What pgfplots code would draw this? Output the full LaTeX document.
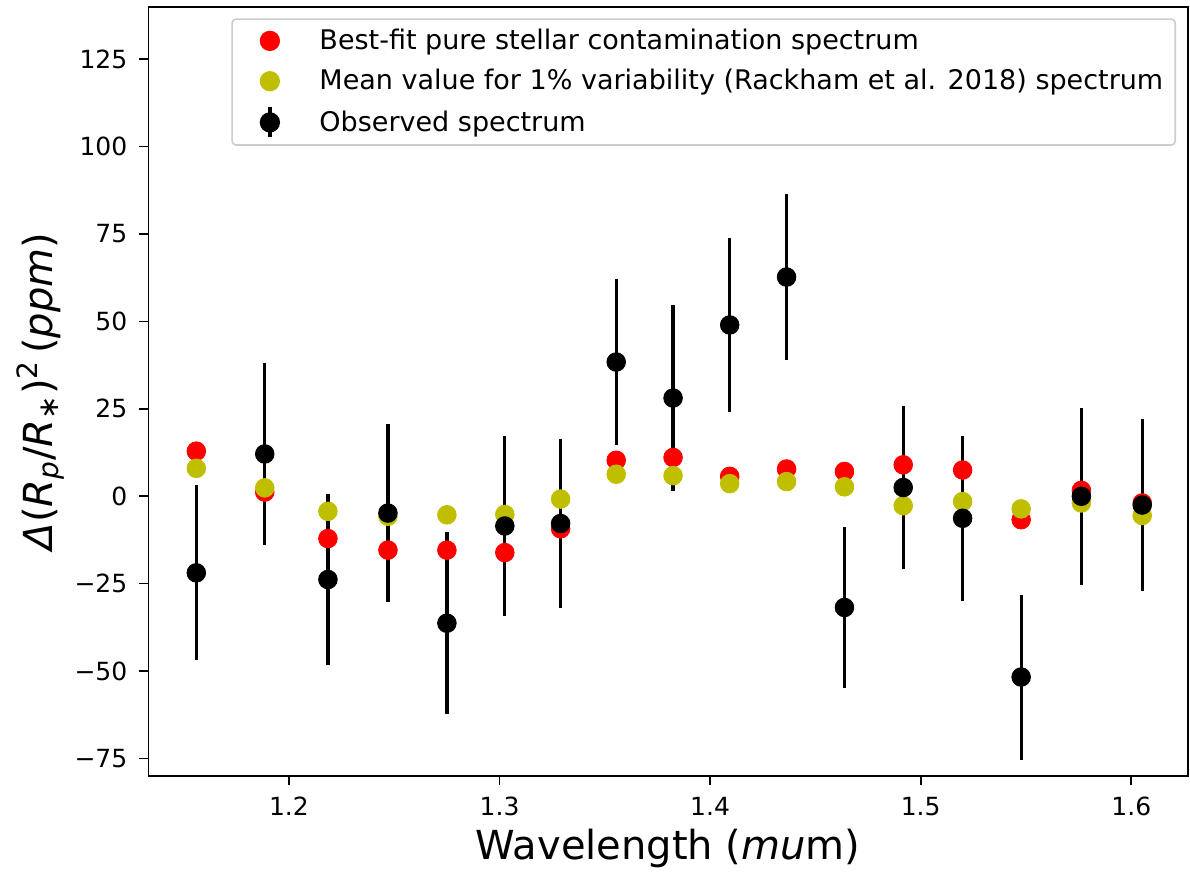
\documentclass[border=0pt]{standalone}
\usepackage{pgfplots}
\pgfplotsset{compat=1.18}
\usepackage{pgfplotstable}
\usepackage{fontspec}
\setmainfont{DejaVu Sans}
\definecolor{myyellow}{RGB}{191,191,0}
\pgfplotstableread{
x      red    yel    blk    err
1.156  12.9   8.0   -21.9   25.0
1.1885  1.2   2.4    12.1   26.0
1.2185 -12.1 -4.3   -23.8   24.4
1.247  -15.4 -5.7    -4.8   25.4
1.275  -15.4 -5.3   -36.3   26.1
1.3025 -16.1 -5.2    -8.5   25.7
1.329   -9.3 -0.8    -7.8   24.2
1.3554  10.3  6.3    38.4   23.7
1.3824  11.1  5.9    28.1   26.7
1.4093   5.7  3.6    49.0   25.0
1.4363   7.8  4.2    62.7   23.7
1.4638   7.1  2.7   -31.8   22.9
1.4917   9.0 -2.7     2.5   23.4
1.5199   7.5 -1.5    -6.3   23.6
1.5477  -6.7 -3.6   -51.7   23.6
1.5763   1.7 -1.9     0.0   25.3
1.6052  -1.9 -5.5    -2.5   24.5
}\datatable
\begin{document}
\begin{tikzpicture}
\begin{axis}[
  scale only axis,
  width=519.7pt, height=384.6pt,
  xmin=1.1332, xmax=1.6268, ymin=-80, ymax=140,
  xtick={1.2,1.3,1.4,1.5,1.6},
  xticklabels={1.2,1.3,1.4,1.5,1.6},
  ytick={-75,-50,-25,0,25,50,75,100,125},
  yticklabels={−75,−50,−25,0,25,50,75,100,125},
  tick pos=left,
  tick align=outside,
  major tick length=4.5pt,
  tick style={line width=0.8pt, black},
  axis line style={line width=0.8pt},
  ticklabel style={font=\fontsize{12.5}{15}\selectfont},
  xticklabel style={inner ysep=0pt, yshift=-5.85pt},
  yticklabel style={inner xsep=0pt, xshift=-5.8pt},
  xlabel={Wavelength (\textit{mu}m)},
  ylabel={\textit{Δ}(\textit{R}\textsubscript{\textit{p}}/\textit{R}\textsubscript{∗})\textsuperscript{2}\,(\textit{ppm})},
  label style={font=\fontsize{20}{24}\selectfont, inner sep=0pt},
  xlabel style={at={(axis description cs:0.5,-0.0689)}, anchor=north},
  ylabel style={at={(axis description cs:-0.0801,0.5)}, anchor=south, rotate=0},
  legend cell align=left,
  legend style={at={(0.9888,0.9850)}, anchor=north east, draw=black!20, line width=0.8pt, rounded corners=2pt,
    font=\fontsize{13.5}{16}\selectfont, row sep=4.4pt, inner xsep=4pt, inner ysep=3pt},
]
% error bars of the observed spectrum (drawn beneath the model points)
\addplot[forget plot, only marks, mark=none, black,
  error bars/.cd, y dir=both, y explicit, error mark=none,
  error bar style={line width=1.65pt, black}]
  table[x=x, y=blk, y error=err] {\datatable};
\addplot[only marks, mark=*, mark size=4.67pt, color=red, mark options={draw=red, fill=red},
  legend image code/.code={\path (0pt,0pt); \fill[red] (14.5pt,0cm) circle (4.67pt); \path (36.9pt,0cm);}]
  table[x=x, y=red] {\datatable};
\addlegendentry{Best-fit pure stellar contamination spectrum}
\addplot[only marks, mark=*, mark size=4.67pt, color=myyellow, mark options={draw=myyellow, fill=myyellow},
  legend image code/.code={\path (0pt,0pt); \fill[myyellow] (14.5pt,0cm) circle (4.67pt); \path (36.9pt,0cm);}]
  table[x=x, y=yel] {\datatable};
\addlegendentry{Mean value for 1\% variability (Rackham et al. 2018) spectrum}
\addplot[only marks, mark=*, mark size=4.67pt, color=black, mark options={draw=black, fill=black},
  legend image code/.code={\path (0pt,0pt); \draw[line width=1.65pt] (14.5pt,-7.5pt)--(14.5pt,7.5pt); \fill[black] (14.5pt,0cm) circle (4.67pt); \path (36.9pt,0cm);}]
  table[x=x, y=blk] {\datatable};
\addlegendentry{Observed spectrum}
\end{axis}
\pgfresetboundingbox
\path ([shift={(-74.15pt,-49pt)}]current axis.south west) rectangle ([shift={(1.15pt,3.4pt)}]current axis.north east);
\end{tikzpicture}
\end{document}
